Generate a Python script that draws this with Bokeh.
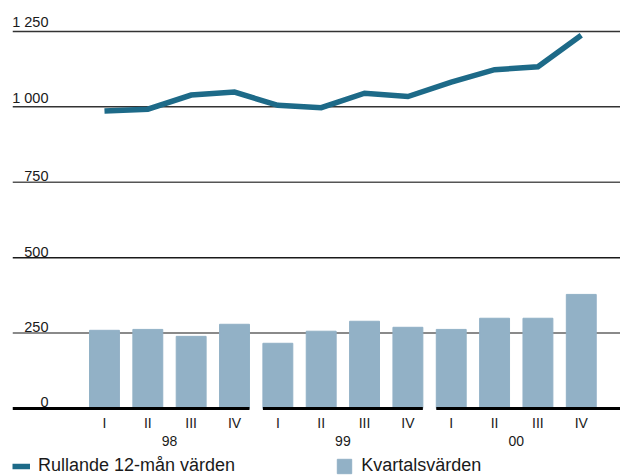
from bokeh.plotting import figure
from bokeh.models import Range1d, Span, Legend, LegendItem, ColumnDataSource
from bokeh.embed import file_html
from bokeh.resources import INLINE

# ---- data ----
years = ["98", "99", "00"]
quarters = ["I", "II", "III", "IV"]
quarterly = [259, 262, 239, 279, 216, 256, 289, 269, 262, 299, 299, 378]
rolling12 = [986, 992, 1039, 1049, 1005, 997, 1045, 1034, 1082, 1123, 1133, 1237]
y_ticks = [0, 250, 500, 750, 1000, 1250]
y_tick_labels = ["0", "250", "500", "750", "1 000", "1 250"]
legend_labels = ["Rullande 12-mån värden", "Kvartalsvärden"]

# ---- styles ----
FONT = "Liberation Sans"
TEXT = "#1a1a1a"
LINE_COLOR = "#1d6a88"
BAR_COLOR = "#92b1c6"
GRID_COLORS = ["#8a8a8a", "#1a1a1a", "#555555", "#333333", "#333333"]
GRID_WIDTHS = [2, 1.5, 1.5, 1.5, 1.5]
BAR_W = 0.69
X_START, X_END = -2.122, 11.905

n = len(quarterly)
xs = list(range(n))
nq = len(quarters)

src = ColumnDataSource(dict(x=xs, q=quarterly, r=rolling12))

p = figure(width=620, height=476,
           x_range=Range1d(X_START, X_END), y_range=Range1d(-225.7, 1326),
           output_backend="svg", toolbar_location=None,
           x_axis_location=None, y_axis_location=None,
           min_border_left=12, min_border_right=0, min_border_top=8, min_border_bottom=0)
p.outline_line_color = None
p.grid.visible = False

# gridlines
for v, c, w in zip(y_ticks[1:], GRID_COLORS, GRID_WIDTHS):
    p.add_layout(Span(location=v, dimension="width", line_color=c, line_width=w, level="underlay"))

bars = p.vbar(x="x", top="q", bottom=0, width=BAR_W, source=src, color=BAR_COLOR)
line = p.line(x="x", y="r", source=src, line_color=LINE_COLOR, line_width=5.5, line_join="miter")

# baseline split by year groups
hw = BAR_W / 2
g_starts = [X_START] + [g * nq - hw for g in range(1, len(years))]
g_ends = [g * nq + nq - 1 + hw for g in range(len(years) - 1)] + [X_END]
p.segment(x0=g_starts, x1=g_ends, y0=[0] * len(years), y1=[0] * len(years),
          line_color="black", line_width=3)

# y labels above gridlines
p.text(x=[X_START] * len(y_ticks), y=y_ticks, text=y_tick_labels,
       x_offset=36, y_offset=-1, text_align="right", text_baseline="bottom",
       text_font_size="14.5px", text_font={"value": FONT}, text_color=TEXT)

# category labels under the baseline: quarters, then years
p.text(x=xs, y=[0] * n, text=[quarters[i % nq] for i in xs],
       y_offset=15, text_align="center", text_baseline="middle",
       text_font_size="14px", text_font={"value": FONT}, text_color=TEXT)
centers = [g * nq + (nq - 1) / 2 for g in range(len(years))]
p.text(x=centers, y=[0] * len(years), text=years,
       y_offset=33, text_align="center", text_baseline="middle",
       text_font_size="14px", text_font={"value": FONT}, text_color=TEXT)

legend = Legend(items=[LegendItem(label=legend_labels[0], renderers=[line]),
                       LegendItem(label=legend_labels[1], renderers=[bars])],
                orientation="horizontal", location="bottom_left",
                border_line_color=None, background_fill_alpha=0,
                padding=0, margin=0, spacing=100,
                glyph_width=18, glyph_height=18, label_standoff=8,
                label_text_font=FONT, label_text_font_size="18px",
                label_text_color=TEXT, label_height=18)
p.add_layout(legend)

open("out.html", "w").write(file_html(p, INLINE))
